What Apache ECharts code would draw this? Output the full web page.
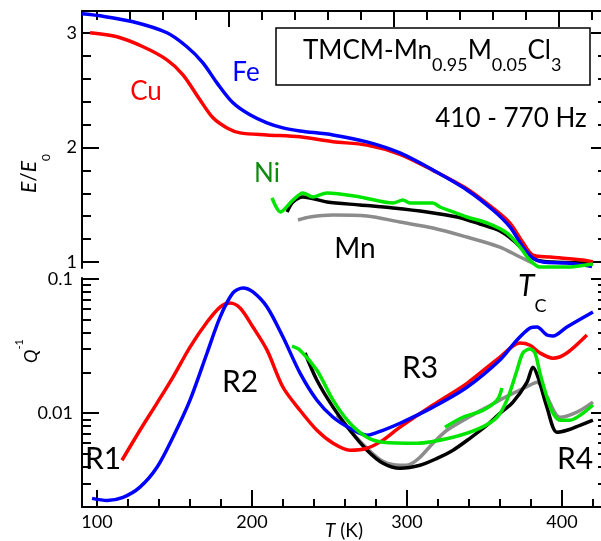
<!DOCTYPE html>
<html>
<head>
<meta charset="utf-8">
<script src="https://cdn.jsdelivr.net/npm/echarts@6/dist/echarts.min.js"></script>
<style>
html, body { margin: 0; padding: 0; background: #fff; }
#main { width: 601px; height: 541px; }
</style>
</head>
<body>
<div id="main"></div>
<script>
// ---- upper panel: E/E0 vs T ----
var feTopT = [110.9,121.8,141.8,162.4,174.5,184.2,192.7,202.4,212.7,223.0,232.7,243.0,263.0,283.6,303.6,323.6,344.2,360.0,370.3,378.2,384.2,390.3,404.8,420.0];
var feTopE = [3.166,3.148,3.096,3.000,2.878,2.738,2.563,2.389,2.284,2.214,2.170,2.144,2.109,2.048,1.952,1.803,1.629,1.454,1.306,1.131,1.035,1.000,0.991,0.962];
var cuTopT = [115.8,132.1,147.9,162.4,172.1,182.4,190.3,198.8,206.7,223.0,243.0,263.0,283.6,303.6,323.6,344.2,360.0,370.3,378.2,384.2,394.5,414.5,420.6];
var cuTopE = [3.000,2.965,2.878,2.764,2.633,2.415,2.258,2.170,2.127,2.109,2.092,2.050,2.020,1.940,1.800,1.640,1.470,1.340,1.170,1.061,1.044,1.017,1.000];
var niTopT = [226.1,231.2,238.8,244.8,250.9,259.4,279.4,299.4,305.5,309.7,323.6,327.9,335.8,344.2,356.4,368.5,376.4,382.4,388.5,404.8,420.6];
var niTopE = [1.559,1.437,1.541,1.603,1.568,1.603,1.568,1.515,1.541,1.515,1.515,1.480,1.437,1.393,1.341,1.253,1.131,1.017,0.956,0.956,0.983];
var mnTopT = [235.2,238.8,244.8,259.4,279.4,299.4,320.0,338.2,352.1,364.2,372.1,380.6,386.7,396.4,420.6];
var mnTopE = [1.437,1.524,1.568,1.524,1.498,1.472,1.437,1.393,1.332,1.271,1.192,1.079,1.017,1.000,0.991];
var mn2TopT = [241.8,249.1,263.0,283.6,303.6,323.6,344.2,364.2,376.4,384.2];
var mn2TopE = [1.367,1.393,1.410,1.402,1.349,1.297,1.218,1.131,1.044,0.991];

// ---- lower panel: Q^-1 vs T ----
var feBotT = [96.8,106.5,116.8,127.7,138.7,149.0,160.0,171.0,179.4,187.7,194.2,200.6,209.7,220.0,231.0,241.9,252.3,263.2,274.2,284.5,295.5,316.8,338.7,360.0,371.0,379.4,383.9,390.3,394.2,403.2,420.0];
var feBotQ = [0.00232,0.00224,0.00236,0.00281,0.00395,0.00662,0.0125,0.0281,0.0520,0.0787,0.0857,0.0800,0.0618,0.0369,0.0199,0.0125,0.00933,0.00773,0.00685,0.00746,0.00841,0.0111,0.0156,0.0249,0.0351,0.0431,0.0439,0.0382,0.0376,0.0439,0.0568];
var cuBotT = [116.1,127.7,138.7,149.0,160.0,171.0,179.4,185.8,192.3,200.6,209.7,220.0,231.0,241.9,252.3,263.2,274.2,284.5,295.5,316.8,338.7,360.0,372.9,379.4,385.8,394.2,403.2,416.1];
var cuBotQ = [0.00446,0.00746,0.0119,0.0186,0.0311,0.0478,0.0618,0.0662,0.0608,0.0439,0.0295,0.0156,0.0105,0.00746,0.00597,0.00530,0.00548,0.00630,0.00787,0.0115,0.0167,0.0262,0.0333,0.0321,0.0281,0.0257,0.0281,0.0382];
var niBotT = [225.8,231.0,241.9,252.3,263.2,274.2,284.5,306.5,329.7,347.1,358.1,364.5,371.0,374.8,379.4,382.6,385.8,390.3,394.2,398.7,405.2,413.5,420.0];
var niBotQ = [0.0316,0.0295,0.0209,0.0125,0.00841,0.00662,0.00608,0.00597,0.00662,0.00773,0.00933,0.0125,0.0209,0.0281,0.0301,0.0281,0.0199,0.0132,0.0100,0.00887,0.00887,0.0100,0.0115];
var niLoopT = [324.5,336.1,349.0,358.1,361.3];
var niLoopQ = [0.00787,0.00933,0.0105,0.0125,0.0154];
var mnBotT = [234.2,241.9,252.3,263.2,274.2,284.5,295.5,308.4,319.4,329.7,340.6,351.6,360.0,368.4,377.4,381.3,384.5,390.3,396.8,403.2,411.6,420.0];
var mnBotQ = [0.0281,0.0176,0.0111,0.00746,0.00530,0.00424,0.00389,0.00409,0.00461,0.00530,0.00650,0.00813,0.0100,0.0121,0.0170,0.0220,0.0186,0.0111,0.00721,0.00746,0.00813,0.00887];
var mn2BotT = [254.8,263.2,274.2,284.5,295.5,301.9,308.4,316.8,325.8,338.7,351.6,361.9,372.9,379.4,383.9,390.3,398.7,409.7,420.0];
var mn2BotQ = [0.00966,0.00746,0.00548,0.00438,0.00409,0.00416,0.00470,0.00597,0.00746,0.00918,0.0111,0.0129,0.0149,0.0162,0.0170,0.0132,0.00933,0.0102,0.0121];

// ---- ticks ----
var topXMinor = [120,140,160,180,200,220,240,260,280,300,320,340,360,380,400,420];
var topXMajor = [200,300,400];
var botXMinor = [100,120,140,160,180,200,220,240,260,280,300,320,340,360,380,400,420];
var botXMajor = [100,200,300,400];
var topYMinor = [1.2,1.4,1.6,1.8,2.2,2.4,2.6,2.8];
var topYMajor = [1,2,3];
var botYMinor = [0.003,0.004,0.005,0.006,0.007,0.008,0.009,0.02,0.03,0.04,0.05,0.06,0.07,0.08,0.09];
var botYMajor = [0.01,0.1];

var FONT = 'Lato';
var chart = echarts.init(document.getElementById('main'));

function pairs(ts, vs) {
	return ts.map(function (t, i) { return [t, vs[i]]; });
}

function line(name, xi, yi, ts, vs, color, z) {
	return {
		name: name, type: 'line', xAxisIndex: xi, yAxisIndex: yi,
		data: pairs(ts, vs), showSymbol: false, symbol: 'none',
		smooth: 0.3, z: z, silent: true,
		lineStyle: { color: color, width: 3.5 }
	};
}

function xAx(grid, pos, min, max, ticks, len, showLine, labels) {
	return {
		gridIndex: grid, type: 'value', position: pos, min: min, max: max,
		axisLine: { show: showLine, onZero: false, lineStyle: { color: '#000', width: 2 } },
		axisTick: { show: true, inside: true, length: len, customValues: ticks, lineStyle: { color: '#000', width: 2 } },
		axisLabel: labels ? { show: true, customValues: labels, color: '#000', fontSize: 18, fontFamily: FONT, margin: 6 } : { show: false },
		splitLine: { show: false }
	};
}

function yAx(grid, type, pos, min, max, ticks, len, showLine, labels, margin) {
	return {
		gridIndex: grid, type: type, position: pos, min: min, max: max,
		axisLine: { show: showLine, onZero: false, lineStyle: { color: '#000', width: 2 } },
		axisTick: { show: true, inside: true, length: len, customValues: ticks, lineStyle: { color: '#000', width: 2 } },
		axisLabel: labels ? { show: true, customValues: labels, color: '#000', fontSize: 18, fontFamily: FONT, margin: margin } : { show: false },
		splitLine: { show: false }
	};
}

// text made of pieces (for sub/superscripts), laid out with measured widths
var mctx = document.createElement('canvas').getContext('2d');
function seq(x0, y0, rot, parts) {
	var kids = [], cx = 0;
	parts.forEach(function (p) {
		var font = (p.italic ? 'italic ' : '') + p.size + 'px ' + FONT;
		mctx.font = font;
		kids.push({
			type: 'text', x: cx, y: p.dy || 0, z: 100,
			style: { text: p.t, font: font, fill: p.color || '#000',
				textAlign: 'left', textVerticalAlign: 'middle', align: 'left', verticalAlign: 'middle' }
		});
		cx += mctx.measureText(p.t).width;
	});
	return { type: 'group', x: x0, y: y0, rotation: rot, children: kids, z: 100 };
}

function label(txt, x, y, size, color) {
	return {
		type: 'text', x: x, y: y, z: 100,
		style: { text: txt, font: size + 'px ' + FONT, fill: color,
			textAlign: 'center', textVerticalAlign: 'middle', align: 'center', verticalAlign: 'middle' }
	};
}

var option = {
	animation: false,
	backgroundColor: '#fff',
	grid: [
		{ left: 82, right: 0, top: 11, height: 257, outerBoundsMode: 'none' },
		{ left: 82, right: 0, top: 278, height: 229, outerBoundsMode: 'none' }
	],
	xAxis: [
		xAx(0, 'top', 110.9, 425.5, topXMinor, 9, true, null),
		xAx(0, 'top', 110.9, 425.5, topXMajor, 16, false, null),
		xAx(1, 'bottom', 90.3, 425.2, botXMinor, 8, true, botXMajor),
		xAx(1, 'bottom', 90.3, 425.2, botXMajor, 17, false, null)
	],
	yAxis: [
		yAx(0, 'value', 'left', 0.948, 3.19, topYMinor, 9, true, topYMajor, 5),
		yAx(0, 'value', 'left', 0.948, 3.19, topYMajor, 17, false, null),
		yAx(0, 'value', 'right', 0.948, 3.19, topYMinor, 3, false, null),
		yAx(0, 'value', 'right', 0.948, 3.19, topYMajor, 10, false, null),
		yAx(1, 'log', 'left', 0.002, 0.1017, botYMinor, 9, true, botYMajor, 9),
		yAx(1, 'log', 'left', 0.002, 0.1017, botYMajor, 17, false, null),
		yAx(1, 'log', 'right', 0.002, 0.1017, botYMinor, 3, false, null),
		yAx(1, 'log', 'right', 0.002, 0.1017, botYMajor, 10, false, null)
	],
	series: [
		line('Mn2', 0, 0, mn2TopT, mn2TopE, '#8c8c8c', 2),
		line('Mn', 0, 0, mnTopT, mnTopE, '#000000', 3),
		line('Cu', 0, 0, cuTopT, cuTopE, '#ff0000', 4),
		line('Fe', 0, 0, feTopT, feTopE, '#0000ff', 5),
		line('Ni', 0, 0, niTopT, niTopE, '#00e600', 6),
		line('Mn2', 2, 4, mn2BotT, mn2BotQ, '#8c8c8c', 2),
		line('Mn', 2, 4, mnBotT, mnBotQ, '#000000', 3),
		line('Cu', 2, 4, cuBotT, cuBotQ, '#ff0000', 4),
		line('Fe', 2, 4, feBotT, feBotQ, '#0000ff', 5),
		line('Ni', 2, 4, niBotT, niBotQ, '#00e600', 6),
		line('Ni2', 2, 4, niLoopT, niLoopQ, '#00e600', 6)
	],
	graphic: [
		{ type: 'rect', z: 90, shape: { x: 276, y: 28, width: 314, height: 57 },
			style: { fill: '#fff', stroke: '#000', lineWidth: 1.5 } },
		seq(303, 51, 0, [
			{ t: 'TMCM-Mn', size: 26 }, { t: '0.95', size: 18, dy: 14 },
			{ t: 'M', size: 26 }, { t: '0.05', size: 18, dy: 14 },
			{ t: 'Cl', size: 26 }, { t: '3', size: 18, dy: 14 }
		]),
		label('410 - 770 Hz', 511, 119, 26, '#000'),
		label('Cu', 146, 92, 26, '#ff0000'),
		label('Fe', 246, 73, 26, '#0000ff'),
		label('Ni', 267, 174, 26, '#0f8a0f'),
		label('Mn', 355, 249, 28, '#000'),
		label('R1', 103, 459, 30, '#000'),
		label('R2', 240, 382, 30, '#000'),
		label('R3', 420, 368, 30, '#000'),
		label('R4', 575, 459, 30, '#000'),
		seq(518, 286, 0, [{ t: 'T', size: 30, italic: true }, { t: 'C', size: 18, dy: 20 }]),
		seq(29.5, 193, Math.PI / 2, [
			{ t: 'E', size: 21, italic: true }, { t: '/', size: 21 },
			{ t: 'E', size: 21, italic: true }, { t: '0', size: 12, dy: 17 }
		]),
		seq(31.5, 363, Math.PI / 2, [{ t: 'Q', size: 18, italic: true }, { t: '-1', size: 11, dy: -12 }]),
		seq(325, 531, 0, [{ t: 'T', size: 19, italic: true }, { t: ' (K)', size: 19 }])
	]
};

chart.setOption(option);

window.onresize = function () {
	chart.resize();
};
</script>
</body>
</html>
